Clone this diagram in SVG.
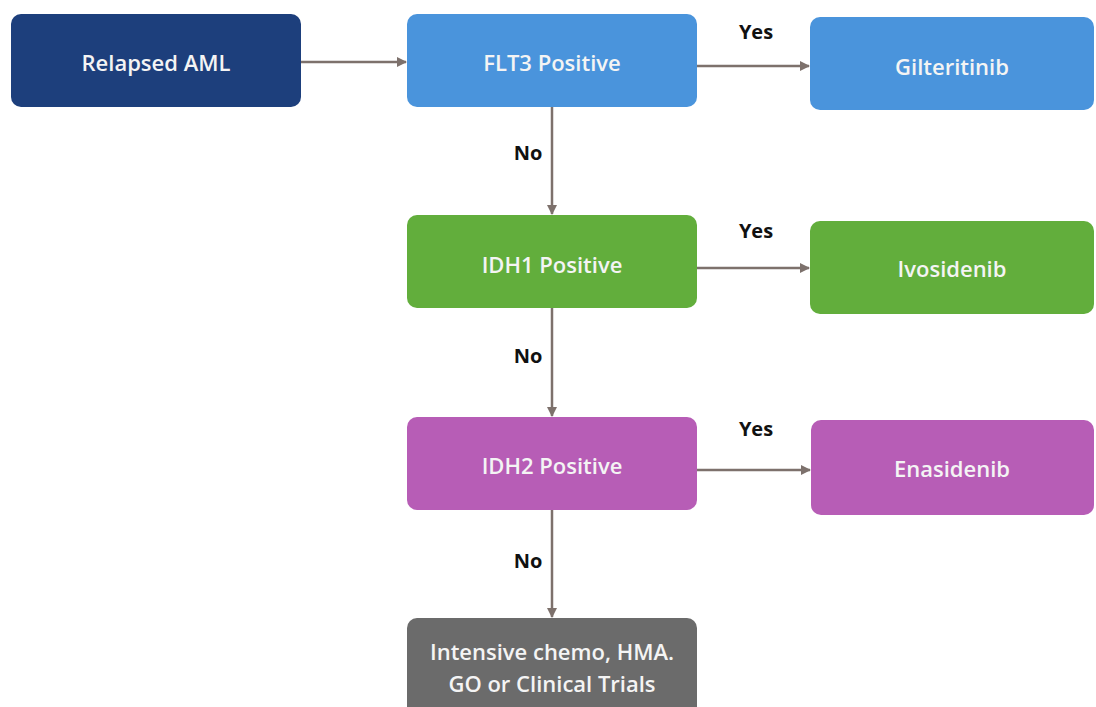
<svg xmlns="http://www.w3.org/2000/svg" width="1096" height="707" viewBox="0 0 1096 707">
<defs>
<style>
.box{stroke:none}
.t{font-family:"Open Sans","Liberation Sans",sans-serif;font-weight:600;font-size:22px;fill:#f4f4f4;text-anchor:middle;dominant-baseline:central}
.l{font-family:"Open Sans","Liberation Sans",sans-serif;font-weight:700;font-size:20px;fill:#111;text-anchor:middle;dominant-baseline:central}
.c{stroke:#7d716c;stroke-width:2.5;fill:none;marker-end:url(#ah)}
</style>
<marker id="ah" markerWidth="10" markerHeight="10" refX="9" refY="5" orient="auto" markerUnits="userSpaceOnUse">
<path d="M0,0 L10,5 L0,10 z" fill="#7d716c"/>
</marker>
</defs>
<rect width="1096" height="707" fill="#ffffff"/>
<g id="connectors">
<line class="c" x1="301" y1="62" x2="406" y2="62"/>
<line class="c" x1="697" y1="66" x2="809" y2="66"/>
<line class="c" x1="552" y1="107" x2="552" y2="214"/>
<line class="c" x1="697" y1="268" x2="809" y2="268"/>
<line class="c" x1="552" y1="308" x2="552" y2="416"/>
<line class="c" x1="697" y1="470" x2="810" y2="470"/>
<line class="c" x1="552" y1="510" x2="552" y2="617"/>
<text class="l" x="756" y="31">Yes</text>
<text class="l" x="528" y="152">No</text>
<text class="l" x="756" y="230">Yes</text>
<text class="l" x="528" y="355">No</text>
<text class="l" x="756" y="428">Yes</text>
<text class="l" x="528" y="560">No</text>
</g>
<g id="relapsed">
<rect class="box" x="11" y="14" width="290" height="93" rx="10" fill="#1d3f7c"/>
<text class="t" x="156" y="62">Relapsed AML</text>
</g>
<g id="flt3">
<rect class="box" x="407" y="14" width="290" height="93" rx="10" fill="#4a94dc"/>
<text class="t" x="552" y="62">FLT3 Positive</text>
</g>
<g id="gilteritinib">
<rect class="box" x="810" y="17" width="284" height="93" rx="10" fill="#4a94dc"/>
<text class="t" x="952" y="66">Gilteritinib</text>
</g>
<g id="idh1">
<rect class="box" x="407" y="215" width="290" height="93" rx="10" fill="#62ae3c"/>
<text class="t" x="552" y="264">IDH1 Positive</text>
</g>
<g id="ivosidenib">
<rect class="box" x="810" y="221" width="284" height="93" rx="10" fill="#62ae3c"/>
<text class="t" x="952" y="268">Ivosidenib</text>
</g>
<g id="idh2">
<rect class="box" x="407" y="417" width="290" height="93" rx="10" fill="#b75db6"/>
<text class="t" x="552" y="465">IDH2 Positive</text>
</g>
<g id="enasidenib">
<rect class="box" x="811" y="420" width="283" height="95" rx="10" fill="#b75db6"/>
<text class="t" x="952" y="468">Enasidenib</text>
</g>
<g id="other">
<rect class="box" x="407" y="618" width="290" height="100" rx="10" fill="#6b6b6b"/>
<text class="t" x="552" y="651">Intensive chemo, HMA.</text>
<text class="t" x="552" y="683">GO or Clinical Trials</text>
</g>
</svg>
